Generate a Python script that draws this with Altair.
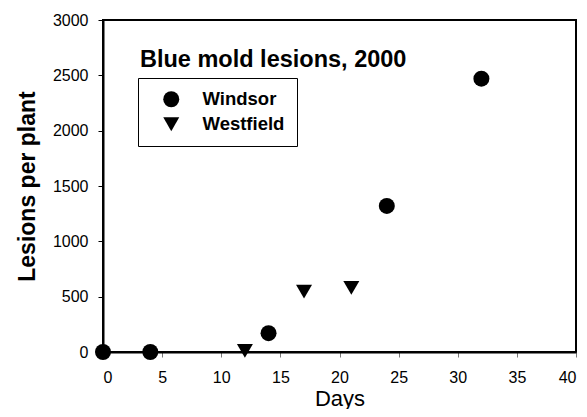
import altair as alt
import pandas as pd

windsor_days = [0, 4, 14, 24, 32]
windsor_lesions = [0, 0, 170, 1320, 2470]
westfield_days = [12, 17, 21]
westfield_lesions = [10, 545, 580]
sites = ["Windsor", "Westfield"]
x_ticks = [0, 5, 10, 15, 20, 25, 30, 35, 40]
y_ticks = [0, 500, 1000, 1500, 2000, 2500, 3000]
chart_title = "Blue mold lesions, 2000"

df = pd.DataFrame({
    "Days": windsor_days + westfield_days,
    "Lesions": windsor_lesions + westfield_lesions,
    "Site": ["Windsor"] * len(windsor_days) + ["Westfield"] * len(westfield_days),
})

FONT = "Liberation Sans"

points = alt.Chart(df).mark_point(
    filled=True, opacity=1, size=256, color="black", strokeWidth=0
).encode(
    x=alt.X("Days:Q",
            scale=alt.Scale(domain=[0, 40], nice=False, zero=False),
            axis=alt.Axis(values=x_ticks, format="d", title="Days", grid=False,
                          labelFontSize=16, labelFont=FONT, labelColor="black",
                          labelPadding=12, tickSize=5, tickColor="#777777",
                          domainColor="black", domainWidth=2,
                          titleFont=FONT, titleFontSize=22, titleFontWeight="normal",
                          titleColor="black", titlePadding=3)),
    y=alt.Y("Lesions:Q",
            scale=alt.Scale(domain=[0, 3000], nice=False),
            axis=alt.Axis(values=y_ticks, format="d", title="Lesions per plant", grid=False,
                          labelFontSize=16, labelFont=FONT, labelColor="black",
                          labelPadding=10, tickSize=5, tickColor="black",
                          domainColor="black", domainWidth=2,
                          titleFont=FONT, titleFontSize=23, titleFontWeight="bold",
                          titleColor="black", titlePadding=13)),
    shape=alt.Shape("Site:N",
                    scale=alt.Scale(domain=sites, range=["circle", "triangle-down"]),
                    legend=alt.Legend(title=None, orient="none", legendX=35, legendY=58,
                                      strokeColor="black", fillColor="white",
                                      padding=12, symbolOffset=12, labelOffset=22,
                                      rowPadding=6, symbolSize=256,
                                      symbolFillColor="black", symbolStrokeWidth=0,
                                      symbolOpacity=1,
                                      labelFont=FONT, labelFontSize=18.5,
                                      labelFontWeight="bold", labelColor="black")),
)

title_text = alt.Chart(pd.DataFrame({"t": [chart_title]})).mark_text(
    align="left", baseline="alphabetic", font=FONT, fontSize=23.5,
    fontWeight="bold", color="black"
).encode(
    text="t:N",
    x=alt.value(37),
    y=alt.value(47),
)

chart = alt.layer(points, title_text).properties(
    width=473, height=332,
    autosize=alt.AutoSizeParams(type="none"),
    padding={"left": 95, "top": 12, "right": 3, "bottom": 57},
).configure_view(stroke="black", strokeWidth=2)

chart.save("out.html", embed_options={"renderer": "svg", "actions": False})
